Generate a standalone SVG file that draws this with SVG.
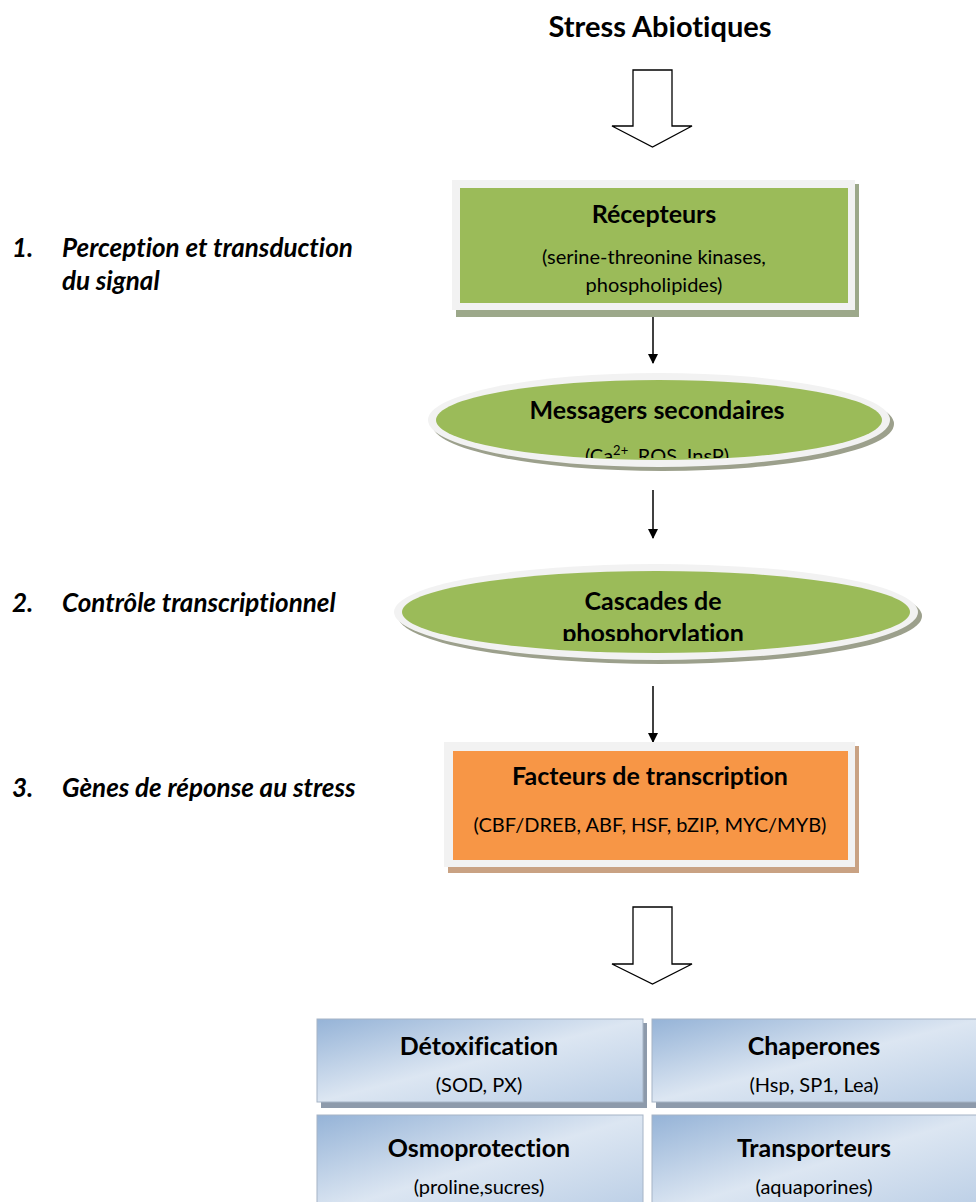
<svg xmlns="http://www.w3.org/2000/svg" width="976" height="1202" viewBox="0 0 976 1202">
<style>
text{font-variant-ligatures:none}
.t{font-family:Lato,"Liberation Sans",sans-serif;fill:#000}
.b{font-weight:bold;font-size:25px}
.s{font-size:20px}
.lab{font-family:Lato,"Liberation Sans",sans-serif;font-weight:bold;font-style:italic;font-size:26px;fill:#000}
.blk{fill:#fff;stroke:#000;stroke-width:1.3}
.con{stroke:#000;stroke-width:1.5;fill:none}
</style>
<defs>
<marker id="ah" markerWidth="10" markerHeight="10" refX="9" refY="5" orient="auto" markerUnits="userSpaceOnUse">
<path d="M0,0 L10,5 L0,10 Z" fill="#000"/>
</marker>
<linearGradient id="bl" x1="0" y1="0" x2="1" y2="1">
<stop offset="0" stop-color="#95b3d7"/>
<stop offset="0.5" stop-color="#dce6f2"/>
<stop offset="1" stop-color="#b9cde5"/>
</linearGradient>
<clipPath id="c1"><rect x="420" y="370" width="480" height="88"/></clipPath>
<clipPath id="c2"><rect x="390" y="560" width="540" height="81"/></clipPath>
</defs>

<text class="t" x="660" y="37" font-size="29" font-weight="bold" text-anchor="middle">Stress Abiotiques</text>

<g id="labels">
<text class="lab" x="12" y="257">1.</text>
<text class="lab" x="62" y="257">Perception et transduction</text>
<text class="lab" x="62" y="290">du signal</text>
<text class="lab" x="12" y="612">2.</text>
<text class="lab" x="62" y="612">Contrôle transcriptionnel</text>
<text class="lab" x="12" y="797">3.</text>
<text class="lab" x="62" y="797">Gènes de réponse au stress</text>
</g>

<g id="connectors">
<polygon class="blk" points="633,70 672,70 672,126 692,126 652.5,147 612,126 633,126"/>
<polygon class="blk" points="633,907 672,907 672,964 692,964 652.5,984 612,964 633,964"/>
<line class="con" x1="653" y1="310" x2="653" y2="363" marker-end="url(#ah)"/>
<line class="con" x1="653" y1="490" x2="653" y2="538" marker-end="url(#ah)"/>
<line class="con" x1="653" y1="686" x2="653" y2="742" marker-end="url(#ah)"/>
</g>

<g id="recepteurs">
<rect x="456" y="184" width="403" height="133" fill="#9ca88a"/>
<rect x="452" y="180" width="403" height="130" fill="#f2f2f2"/>
<rect x="460" y="188" width="388" height="115" fill="#9bbb59"/>
<text class="t b" x="654" y="223" text-anchor="middle">Récepteurs</text>
<text class="t s" x="654" y="264" text-anchor="middle">(serine-threonine kinases,</text>
<text class="t s" x="654" y="292" text-anchor="middle">phospholipides)</text>
</g>

<g id="messagers">
<ellipse cx="663" cy="424" rx="231" ry="47" fill="#9ca08c"/>
<ellipse cx="659" cy="420" rx="231" ry="47" fill="#f2f2f2"/>
<ellipse cx="659" cy="420" rx="223" ry="40" fill="#9bbb59"/>
<text class="t b" x="657" y="419" text-anchor="middle">Messagers secondaires</text>
<g clip-path="url(#c1)">
<text class="t s" x="657" y="463" text-anchor="middle">(Ca<tspan font-size="13" dy="-8">2+</tspan><tspan dy="8">, ROS, InsP)</tspan></text>
</g>
</g>

<g id="cascades">
<ellipse cx="660" cy="616" rx="262" ry="48" fill="#9ca08c"/>
<ellipse cx="656" cy="612" rx="262" ry="48" fill="#f2f2f2"/>
<ellipse cx="656" cy="612" rx="254" ry="41" fill="#9bbb59"/>
<text class="t b" x="653" y="610" text-anchor="middle">Cascades de</text>
<g clip-path="url(#c2)">
<text class="t b" x="653" y="642" text-anchor="middle">phosphorylation</text>
</g>
</g>

<g id="facteurs">
<rect x="448" y="746" width="411" height="127" fill="#c9a283"/>
<rect x="444" y="742" width="411" height="125" fill="#f2f2f2"/>
<rect x="453" y="751" width="395" height="109" fill="#f79646"/>
<text class="t b" x="650" y="785" text-anchor="middle">Facteurs de transcription</text>
<text class="t s" x="650" y="832" text-anchor="middle">(CBF/DREB, ABF, HSF, bZIP, MYC/MYB)</text>
</g>

<g id="detox">
<rect x="321" y="1023" width="326" height="85" fill="#8d9aab"/>
<rect x="317" y="1019" width="326" height="83" fill="url(#bl)" stroke="#a6b4c6" stroke-width="1"/>
<text class="t b" x="479" y="1055" text-anchor="middle">Détoxification</text>
<text class="t s" x="479" y="1092" text-anchor="middle">(SOD, PX)</text>
</g>

<g id="chaperones">
<rect x="656" y="1023" width="326" height="85" fill="#8d9aab"/>
<rect x="652" y="1019" width="330" height="83" fill="url(#bl)" stroke="#a6b4c6" stroke-width="1"/>
<text class="t b" x="814" y="1055" text-anchor="middle">Chaperones</text>
<text class="t s" x="814" y="1092" text-anchor="middle">(Hsp, SP1, Lea)</text>
</g>

<g id="osmo">
<rect x="317" y="1115" width="326" height="100" fill="url(#bl)" stroke="#a6b4c6" stroke-width="1"/>
<text class="t b" x="479" y="1157" text-anchor="middle">Osmoprotection</text>
<text class="t s" x="479" y="1194" text-anchor="middle">(proline,sucres)</text>
</g>

<g id="transporteurs">
<rect x="652" y="1115" width="330" height="100" fill="url(#bl)" stroke="#a6b4c6" stroke-width="1"/>
<text class="t b" x="814" y="1157" text-anchor="middle">Transporteurs</text>
<text class="t s" x="814" y="1194" text-anchor="middle">(aquaporines)</text>
</g>
</svg>
